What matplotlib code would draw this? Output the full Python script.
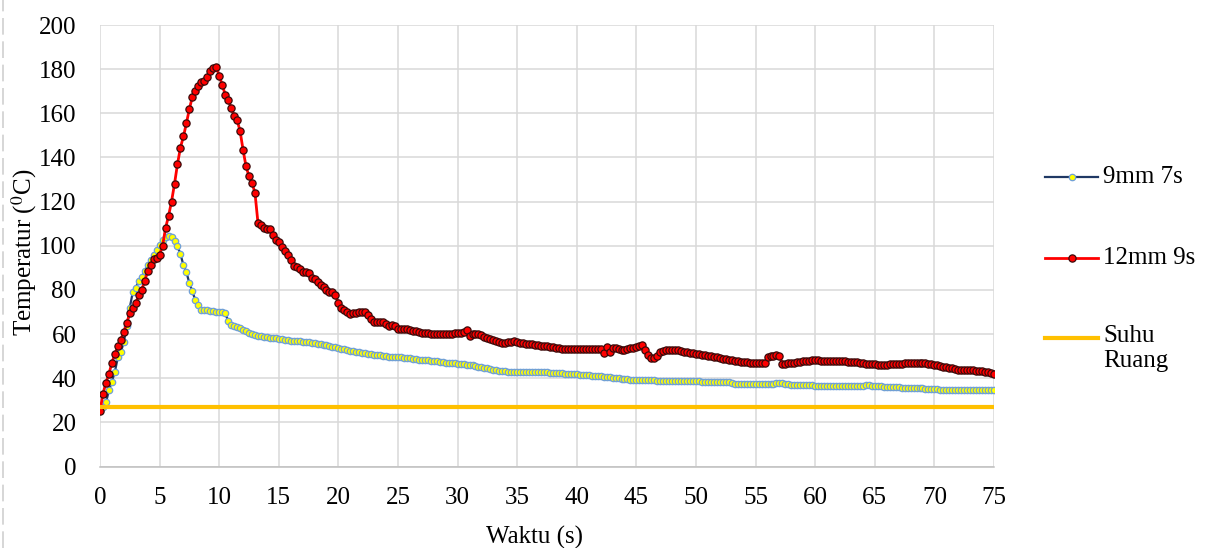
import matplotlib
matplotlib.use("Agg")
import matplotlib.pyplot as plt
from matplotlib.lines import Line2D

# ---------------- data ----------------
sample_interval_s = 0.25          # logger sampling step (s)
suhu_ruang = 27                   # room temperature (°C)
x_ticks = [0, 5, 10, 15, 20, 25, 30, 35, 40, 45, 50, 55, 60, 65, 70, 75]
y_ticks = [0, 20, 40, 60, 80, 100, 120, 140, 160, 180, 200]

temp_9mm_7s = [
    25.5, 27, 29, 34.5,   38.5, 43, 49.5, 51.8,   56.5, 63.5, 72, 79,
    81, 84, 85.8, 88.6,   91.3, 93.6, 96, 98,     100.2, 102.4, 104, 104.3,
    104, 102.2, 99.8, 96.2,   91.2, 88, 83, 79.3,   75.3, 73, 71, 70.8,
    70.7, 70.6, 70.4, 70.2,   70, 69.8, 69.5, 66,   64.2, 63.6, 63.1, 62.7,
    61.8, 61.2, 60.4, 60,   59.6, 59.2, 59, 58.8,   58.5, 58.3, 58.2, 58,
    57.8, 57.6, 57.3, 57.1,   57, 56.9, 56.8, 56.7,   56.6, 56.4, 56.2, 56,
    55.8, 55.6, 55.4, 55.2,   54.9, 54.6, 54.3, 54,   53.7, 53.4, 53.1, 52.8,
    52.5, 52.3, 52, 51.8,   51.5, 51.2, 51, 50.8,   50.6, 50.4, 50.3, 50.1,
    50, 49.8, 49.7, 49.6,   49.5, 49.4, 49.2, 49.1,   49, 48.8, 48.6, 48.4,
    48.3, 48.2, 48.1, 48,   47.8, 47.7, 47.5, 47.3,   47.1, 47, 46.9, 46.8,
    46.6, 46.5, 46.4, 46.2,   46, 45.8, 45.6, 45.3,   45.1, 44.8, 44.5, 44.2,
    43.9, 43.6, 43.4, 43.2,   43.1, 43, 42.9, 42.9,   42.8, 42.8, 42.8, 42.8,
    42.8, 42.8, 42.7, 42.7,   42.7, 42.6, 42.6, 42.5,   42.5, 42.4, 42.3, 42.2,
    42.1, 42, 41.9, 41.8,   41.7, 41.6, 41.5, 41.4,   41.3, 41.2, 41, 40.9,
    40.8, 40.6, 40.5, 40.4,   40.2, 40.1, 40, 39.8,   39.7, 39.5, 39.4, 39.3,
    39.3, 39.2, 39.2, 39.1,   39.1, 39, 39, 38.9,   38.9, 38.8, 38.8, 38.8,
    38.7, 38.7, 38.7, 38.7,   38.6, 38.6, 38.6, 38.6,   38.6, 38.6, 38.5, 38.5,
    38.5, 38.5, 38.4, 38.4,   38.4, 38.3, 38.3, 38.2,   37.6, 37.5, 37.5, 37.5,
    37.4, 37.4, 37.3, 37.3,   37.3, 37.2, 37.2, 37.2,   37.2, 37.2, 37.3, 37.8,
    37.7, 37.6, 37.4, 37.3,   37.1, 37, 36.9, 36.8,   36.8, 36.7, 36.7, 36.7,
    36.6, 36.6, 36.6, 36.5,   36.5, 36.5, 36.5, 36.4,   36.4, 36.4, 36.4, 36.3,
    36.3, 36.3, 36.3, 36.3,   36.3, 36.7, 36.7, 36.6,   36.5, 36.4, 36.3, 36.2,
    36.1, 36, 35.9, 35.8,   35.8, 35.7, 35.7, 35.6,   35.6, 35.5, 35.5, 35.4,
    35.4, 35.3, 35.3, 35.2,   35.2, 34.9, 34.6, 34.6,   34.6, 34.6, 34.6, 34.7,
    34.7, 34.8, 34.8, 34.8,   34.8, 34.8, 34.8, 34.8,   34.8, 34.8, 34.8, 34.8,
    34.8,
]

temp_12mm_9s = [
    25, 33, 38, 42,   47, 51, 54.5, 57.5,   61, 65, 69.5, 72,
    74, 77.5, 80, 84,   88.5, 91.5, 94, 94.5,   96, 100, 108, 113.5,
    120, 128, 137, 144.5,   149.5, 155.5, 162, 167.5,   170, 172.5, 174, 174.5,
    176.5, 179, 180.5, 181,   177, 173, 168.5, 166,   162.5, 159, 157, 152,
    143.5, 136, 131.5, 128.5,   124, 110.5, 109.3, 108,   107.8, 107.8, 104.8, 102.8,
    101.5, 99.5, 97.5, 96,   93.5, 91, 90.5, 89.5,   88.2, 88, 87.7, 85.5,
    84.8, 83.5, 82, 81.2,   79.8, 79, 79, 77.5,   74, 72, 70.8, 70,
    69.3, 69.5, 69.6, 70,   70, 69.8, 68.5, 66.8,   65.5, 65.4, 65.4, 65.4,
    64.5, 63.5, 64.3, 63.5,   62.4, 62.4, 62.3, 62.1,   62, 61.6, 61.2, 60.9,
    60.7, 60.5, 60.4, 60.2,   60, 59.9, 59.9, 59.9,   60, 60.1, 60.2, 60.4,
    60.5, 60.7, 60.9, 61.7,   59, 59.9, 59.9, 59.9,   59.6, 58.6, 58.2, 57.8,
    57.3, 56.8, 56.2, 55.9,   56.1, 56.4, 56.6, 56.7,   56.5, 56.1, 55.9, 55.7,
    55.5, 55.3, 55.1, 54.9,   54.7, 54.6, 54.4, 54.2,   54, 53.7, 53.5, 53.4,
    53.3, 53.3, 53.2, 53.2,   53.2, 53.2, 53.1, 53.1,   53.1, 53.1, 53.1, 53.2,
    53.4, 51.4, 54.1, 51.7,   53.9, 53.5, 53.2, 53,   53, 53.2, 53.5, 53.8,
    54.1, 54.5, 54.9, 53,   50.5, 49.1, 49.2, 50.2,   51.8, 52.3, 52.6, 52.8,
    52.9, 52.8, 52.6, 52.3,   52, 51.8, 51.5, 51.2,   51, 50.8, 50.6, 50.3,
    50.1, 49.9, 49.6, 49.4,   49.1, 48.8, 48.6, 48.4,   48.2, 48, 47.8, 47.5,
    47.3, 47.2, 47, 46.9,   46.8, 46.8, 46.8, 46.8,   49.6, 50, 50.2, 50.3,
    50.1, 46.6, 46.6, 46.7,   46.8, 46.9, 47.2, 47.5,   47.8, 47.9, 48, 48.1,
    48.1, 48.1, 48, 47.9,   47.8, 47.8, 47.8, 47.7,   47.7, 47.6, 47.6, 47.5,
    47.4, 47.3, 47.2, 47,   46.8, 46.6, 46.5, 46.4,   46.3, 46.2, 46.1, 46.1,
    46.2, 46.3, 46.3, 46.4,   46.5, 46.6, 46.7, 46.8,   46.8, 46.8, 46.8, 46.8,
    46.8, 46.7, 46.5, 46.3,   46.1, 45.8, 45.5, 45.2,   45, 44.7, 44.4, 44.1,
    43.9, 43.8, 43.7, 43.6,   43.5, 43.5, 43.4, 43.3,   43.2, 43, 42.7, 42.3,
    42,
]

time_9mm = [i * sample_interval_s for i in range(len(temp_9mm_7s))]
time_12mm = [i * sample_interval_s for i in range(len(temp_12mm_9s))]
room_span = [x_ticks[0], x_ticks[-1]]

# ---------------- style ----------------
plt.rcParams["font.family"] = ["Liberation Serif", "DejaVu Serif"]
plt.rcParams["mathtext.fontset"] = "stix"
FS = 18

W, H = 1210, 548
fig = plt.figure(figsize=(W / 100, H / 100), dpi=100)
ax = fig.add_axes([100 / W, 1 - 466.5 / H, 894 / W, (466.5 - 25) / H])

grid_c = "#D9D9D9"
blue_line = dict(color="#1F3864", lw=1.6)
blue_mark = dict(marker="o", ms=4.6, mfc="#FFFF00", mec="#6F9FD8", mew=0.9)
red_line = dict(color="#FF0000", lw=2.0)
red_mark = dict(marker="o", ms=5.2, mfc="#FF0000", mec="#3A0A0A", mew=0.9)
orange_line = dict(color="#FFC000", lw=3.0)

ax.plot(time_9mm, temp_9mm_7s, zorder=3, label="9mm 7s", **blue_line, **blue_mark)
ax.plot(time_12mm, temp_12mm_9s, zorder=4, label="12mm 9s", **red_line, **red_mark)
ax.plot(room_span, [suhu_ruang, suhu_ruang], zorder=5, label="Suhu Ruang",
        **orange_line)

ax.set_xlim(x_ticks[0], x_ticks[-1])
ax.set_ylim(y_ticks[0], y_ticks[-1])
ax.set_xticks(x_ticks)
ax.set_yticks(y_ticks)
ax.tick_params(axis="both", length=0, labelsize=FS)
ax.tick_params(axis="x", pad=15)
ax.tick_params(axis="y", pad=17)
ax.grid(True, color=grid_c, lw=1.1, zorder=0)
ax.set_axisbelow(True)
for s in ["top", "right", "left"]:
    ax.spines[s].set_visible(False)
ax.spines["bottom"].set_color("#BFBFBF")
ax.spines["bottom"].set_linewidth(1.1)

# axis titles
fig.text(24 / W, 1 - 252 / H, "Temperatur ($^{0}$C)", rotation=90,
         ha="center", va="center", fontsize=FS)
fig.text(535 / W, 1 - 537 / H, "Waktu (s)", ha="center", va="center",
         fontsize=FS)

# legend (drawn manually to mimic spreadsheet layout)
lx0, lx1, ltx = 1045 / W, 1098 / W, 1103 / W
entries = [
    (177, "9mm 7s", blue_line, blue_mark),
    (258, "12mm 9s", red_line, red_mark),
    (338, "Suhu\nRuang", orange_line, None),
]
for ypx, lab, lstyle, mstyle in entries:
    yf = 1 - ypx / H
    fig.add_artist(Line2D([lx0, lx1], [yf, yf], transform=fig.transFigure, **lstyle))
    if mstyle:
        fig.add_artist(Line2D([(lx0 + lx1) / 2], [yf], transform=fig.transFigure,
                              ls="none", **mstyle))
    if "\n" in lab:
        fig.text(ltx, yf + 13 / H, lab, ha="left", va="top", fontsize=FS,
                 linespacing=1.2)
    else:
        fig.text(ltx, yf, lab, ha="left", va="center", fontsize=FS)

# faint dashed border line at left edge
fig.add_artist(Line2D([3 / W, 3 / W], [0, 1], transform=fig.transFigure,
                      color="#D0D0D0", lw=1.2, ls=(0, (10, 4))))

fig.savefig("out.png", dpi=100)
